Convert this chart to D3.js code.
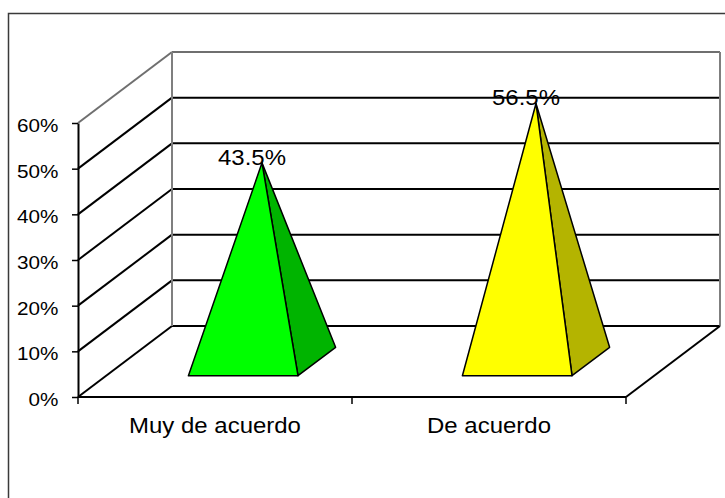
<!DOCTYPE html>
<html>
<head>
<meta charset="utf-8">
<script src="https://cdn.jsdelivr.net/npm/d3@7"></script>
<style>
  html, body { margin: 0; padding: 0; background: #fff; }
  svg { display: block; }
  text { font-family: "Liberation Sans", Arial, sans-serif; fill: #000; }
</style>
</head>
<body>
<div id="chart"></div>
<script>
// Data
const categories = ["Muy de acuerdo", "De acuerdo"];
const values = [0.435, 0.565];
const labels = ["43.5%", "56.5%"];
const tickValues = [0, 0.1, 0.2, 0.3, 0.4, 0.5, 0.6];
const frontColors = ["#00FF00", "#FFFF00"];
const sideColors = ["#00B400", "#B4B400"];

/*******************************/
/*    Declare the constants    */
/*******************************/
const width = 725;
const height = 498;
const depthX = 94;   // how far the back wall sits to the right
const depthY = -71;  // and upwards
const stretch = 1.09; // text in the original is slightly wide

const svg = d3.select("#chart")
  .append("svg")
    .attr("width", width)
    .attr("height", height);

// Outer frame (right and bottom edges fall outside the picture)
svg.append("rect")
  .attr("x", 8.5)
  .attr("y", 13.5)
  .attr("width", 730)
  .attr("height", 500)
  .attr("fill", "none")
  .attr("stroke", "#3a3a3a")
  .attr("stroke-width", 1.5);

/****************************/
/*    Declare the scales    */
/****************************/
const xScale = d3.scaleBand()
  .domain(categories)
  .range([78, 626])
  .padding(0);

const yScale = d3.scaleLinear()
  .domain([0, 0.6])
  .range([397, 123]);

const zScale = d3.scaleLinear()
  .domain([0, 1])
  .range([0, 1]);

// project a point (x in px, value, depth 0..1) onto the page
const proj = (x, v, z) => [x + zScale(z) * depthX, yScale(v) + zScale(z) * depthY];

const x0 = xScale.range()[0];
const x1 = xScale.range()[1];
const vMax = yScale.domain()[1];

const line = d3.line();
const drawLine = (a, b, color) => svg.append("path")
  .attr("d", line([a, b]))
  .attr("fill", "none")
  .attr("stroke", color)
  .attr("stroke-width", 2);

/**************************/
/*    Walls and floor     */
/**************************/
// back wall and side wall gridlines
tickValues.forEach(t => {
  if (t < vMax) {
    drawLine(proj(x0, t, 1), proj(x1, t, 1), "#000");
    drawLine(proj(x0, t, 0), proj(x0, t, 1), "#000");
  }
});
// top edges and back wall verticals in gray
drawLine(proj(x0, vMax, 1), proj(x1, vMax, 1), "#6f6f6f");
drawLine(proj(x0, vMax, 0), proj(x0, vMax, 1), "#6f6f6f");
drawLine(proj(x0, 0, 1), proj(x0, vMax, 1), "#7f7f7f");
drawLine(proj(x1, 0, 1), proj(x1, vMax, 1), "#7f7f7f");
// floor
drawLine(proj(x0, 0, 0), proj(x1, 0, 0), "#000");
drawLine(proj(x1, 0, 0), proj(x1, 0, 1), "#000");

/**************************/
/*      Add the axes      */
/**************************/
const leftAxis = d3.axisLeft(yScale)
  .tickValues(tickValues)
  .tickSize(6)
  .tickSizeOuter(0)
  .tickPadding(12)
  .tickFormat(d3.format(".0%"));

const yAxisG = svg.append("g")
  .attr("transform", `translate(${x0}, 0)`)
  .call(leftAxis);
yAxisG.select(".domain").attr("stroke", "#000").attr("stroke-width", 2);
yAxisG.selectAll(".tick line").attr("stroke", "#000").attr("stroke-width", 1.5);
yAxisG.selectAll(".tick text")
  .attr("dy", "0.45em")
  .attr("transform", `scale(${stretch}, 1)`)
  .style("font-family", "Liberation Sans, Arial, sans-serif")
  .style("font-size", "19px")
  .attr("fill", "#000");

// category ticks along the front floor edge
const catTicks = [x0, ...categories.map(c => xScale(c) + xScale.bandwidth())];
catTicks.forEach(x => {
  svg.append("line")
    .attr("x1", x).attr("x2", x)
    .attr("y1", yScale(0)).attr("y2", yScale(0) + 7)
    .attr("stroke", "#000")
    .attr("stroke-width", 1.5);
});

svg.selectAll(".cat-label")
  .data(categories)
  .join("text")
    .attr("class", "cat-label")
    .attr("transform", d => `translate(${xScale(d) + xScale.bandwidth() / 2}, ${yScale(0) + 36}) scale(${stretch}, 1)`)
    .attr("text-anchor", "middle")
    .style("font-size", "22px")
    .text(d => d);

/**************************/
/*    Append pyramids     */
/**************************/
const zFront = 0.3;
const zBack = 0.7;
const zMid = 0.5;

categories.forEach((c, i) => {
  const cx = xScale(c) + xScale.bandwidth() / 2;
  const hw = xScale.bandwidth() * 0.2;
  const apex = proj(cx, values[i], zMid);
  const fl = proj(cx - hw, 0, zFront);
  const fr = proj(cx + hw, 0, zFront);
  const br = proj(cx + hw, 0, zBack);

  svg.append("path")
    .attr("d", line([fr, br, apex]) + "Z")
    .attr("fill", sideColors[i])
    .attr("stroke", "#000")
    .attr("stroke-width", 1.5)
    .attr("stroke-linejoin", "round");

  svg.append("path")
    .attr("d", line([fl, fr, apex]) + "Z")
    .attr("fill", frontColors[i])
    .attr("stroke", "#000")
    .attr("stroke-width", 1.5)
    .attr("stroke-linejoin", "round");

  svg.append("text")
    .attr("transform", `translate(${apex[0] - 10}, ${apex[1] + 2}) scale(${stretch}, 1)`)
    .attr("text-anchor", "middle")
    .style("font-size", "22px")
    .text(labels[i]);
});
</script>
</body>
</html>
